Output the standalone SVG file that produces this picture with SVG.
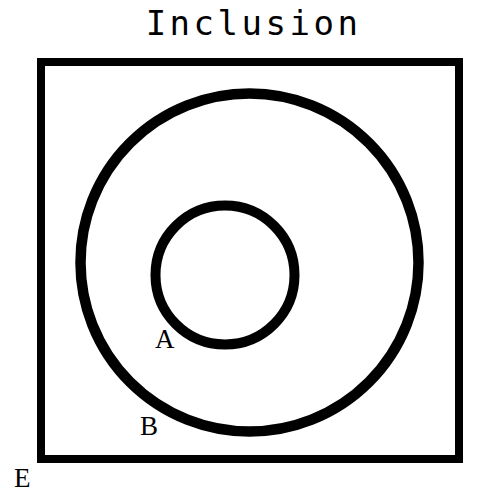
<svg xmlns="http://www.w3.org/2000/svg" width="500" height="500" viewBox="0 0 500 500">
<style>
.shape{fill:none;stroke:#000}
.lbl{font-family:"Liberation Serif","Times New Roman",serif;font-size:27px;fill:#000}
.title{font-family:"DejaVu Sans Mono",monospace;font-size:34px;fill:#000;letter-spacing:3.5px}
</style>
<rect width="500" height="500" fill="#fff"/>
<text class="title" x="253.5" y="35" text-anchor="middle">Inclusion</text>
<g id="E">
<rect class="shape" x="41" y="62" width="418" height="397" stroke-width="8"/>
<text class="lbl" x="14" y="487">E</text>
</g>
<g id="B">
<circle class="shape" cx="249.5" cy="262.5" r="169" stroke-width="10.5"/>
<text class="lbl" x="140" y="435">B</text>
</g>
<g id="A">
<circle class="shape" cx="225" cy="275" r="69.5" stroke-width="10"/>
<text class="lbl" x="155" y="348">A</text>
</g>
<g id="connectors"/>
</svg>
